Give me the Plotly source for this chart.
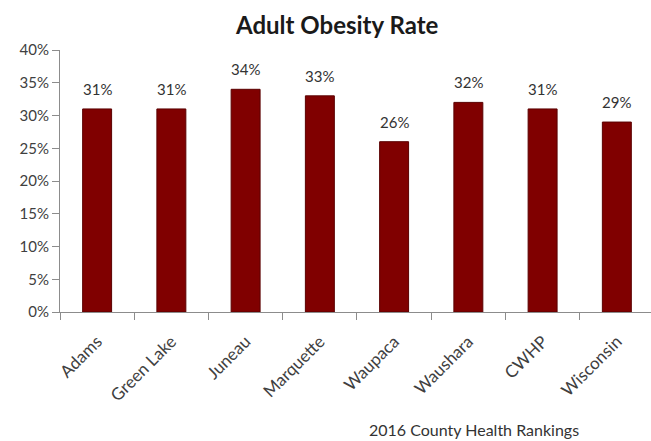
import plotly.graph_objects as go

counties = ["Adams", "Green Lake", "Juneau", "Marquette", "Waupaca", "Waushara", "CWHP", "Wisconsin"]
obesity_pct = [31, 31, 34, 33, 26, 32, 31, 29]

rates = [v / 100 for v in obesity_pct]
labels = [f"{v}%" for v in obesity_pct]

fig = go.Figure(
    go.Bar(
        x=counties,
        y=rates,
        marker=dict(color="#800000", line=dict(color="#5a0000", width=1)),
    )
)

axis_font = dict(family="Lato", size=15, color="#404040")

# value labels floating a little above each bar
value_labels = [
    dict(
        x=c,
        y=r,
        xref="x",
        yref="y",
        text=t,
        showarrow=False,
        yanchor="bottom",
        yshift=9,
        font=dict(family="Lato", size=15, color="#333333"),
    )
    for c, r, t in zip(counties, rates, labels)
]

fig.update_layout(
    width=651,
    height=441,
    margin=dict(l=60, r=0, t=50, b=129),
    paper_bgcolor="white",
    plot_bgcolor="white",
    bargap=0.61,
    showlegend=False,
    title=dict(
        text="<b>Adult Obesity Rate</b>",
        x=0.518,
        xanchor="center",
        y=0.942,
        yanchor="middle",
        font=dict(family="Lato", size=24, color="#1a1a1a"),
    ),
    xaxis=dict(
        range=[-0.5, 7.46],
        showline=True,
        linecolor="#8c8c8c",
        linewidth=1,
        ticks="outside",
        tickcolor="#8c8c8c",
        ticklen=7,
        tickson="boundaries",
        tickangle=-45,
        ticklabelstandoff=12,
        tickfont=dict(family="Lato", size=17, color="#404040"),
        showgrid=False,
    ),
    yaxis=dict(
        range=[0, 0.40],
        dtick=0.05,
        tickformat=".0%",
        showline=True,
        linecolor="#8c8c8c",
        linewidth=1,
        ticks="outside",
        tickcolor="#8c8c8c",
        ticklen=7,
        tickfont=axis_font,
        showgrid=False,
        zeroline=False,
    ),
    annotations=value_labels
    + [
        dict(
            text="2016 County Health Rankings",
            xref="paper",
            yref="paper",
            x=0.70,
            y=-0.447,
            xanchor="center",
            yanchor="middle",
            showarrow=False,
            font=dict(family="Lato", size=16, color="#333333"),
        )
    ],
)

fig.write_html("out.html")
